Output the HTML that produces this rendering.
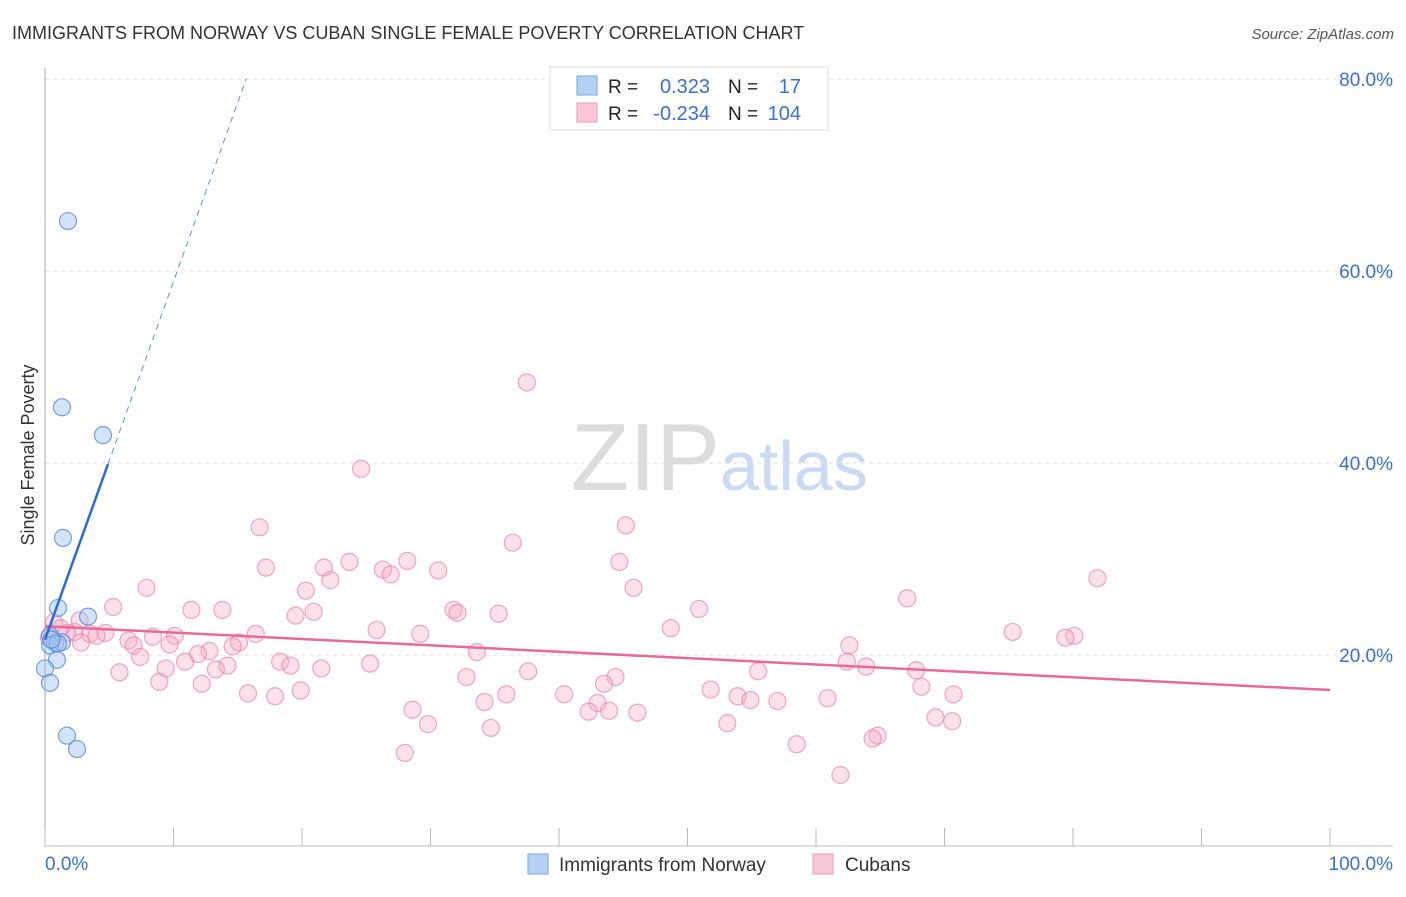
<!DOCTYPE html>
<html><head><meta charset="utf-8"><style>
body{margin:0;background:#fff;font-family:"Liberation Sans",sans-serif;}
svg text{font-family:"Liberation Sans",sans-serif;}
</style></head><body>
<svg id="chart" width="1406" height="892" viewBox="0 0 1406 892">
<text x="12" y="39" font-size="18" fill="#333">IMMIGRANTS FROM NORWAY VS CUBAN SINGLE FEMALE POVERTY CORRELATION CHART</text>
<text x="1394" y="39" font-size="15" fill="#555" text-anchor="end" font-style="italic">Source: ZipAtlas.com</text>
<text x="720" y="490" font-size="96" fill="#dcdcdc" text-anchor="end" font-family="Liberation Serif">ZIP</text>
<text x="720" y="490" font-size="70" fill="#c9daf3">atlas</text>
<text transform="translate(34,455) rotate(-90)" font-size="18" fill="#333" text-anchor="middle">Single Female Poverty</text>
<g id="grid"></g><g id="marks"></g>
<g>
<rect x="550" y="67" width="278" height="63" fill="#fff" stroke="#ddd"/>
<rect x="577" y="76" width="20" height="19" fill="#b5d0f5" stroke="#7aa6e6"/>
<rect x="577" y="103" width="20" height="19" fill="#f9c6d5" stroke="#ee9ab3"/>
<text x="608" y="93" font-size="19" fill="#222">R =</text><text x="710" y="93" font-size="20" fill="#3871d0" text-anchor="end">0.323</text>
<text x="728" y="93" font-size="19" fill="#222">N =</text><text x="801" y="93" font-size="20" fill="#3871d0" text-anchor="end">17</text>
<text x="608" y="120" font-size="19" fill="#222">R =</text><text x="710" y="120" font-size="20" fill="#3871d0" text-anchor="end">-0.234</text>
<text x="728" y="120" font-size="19" fill="#222">N =</text><text x="801" y="120" font-size="20" fill="#3871d0" text-anchor="end">104</text>
</g>
<g>
<rect x="528" y="854" width="20" height="20" fill="#b5d0f5" stroke="#7aa6e6"/>
<text x="559" y="871" font-size="19" fill="#333">Immigrants from Norway</text>
<rect x="813" y="854" width="20" height="20" fill="#f9c6d5" stroke="#ee9ab3"/>
<text x="845" y="871" font-size="19" fill="#333">Cubans</text>
</g>
</svg>
<script>
const yTicks=[20,40,60,80];
const yTickLabels=["20.0%","40.0%","60.0%","80.0%"];
const xTickLabels=["0.0%","100.0%"];
const norwayX=[1.79,1.32,4.51,1.40,1.01,3.35,0.39,0.78,1.32,0.39,0.93,0,0.39,1.71,2.49,1.0,0.5];
const norwayY=[65.2,45.8,42.9,32.2,24.9,24.0,22.0,21.25,21.35,21.0,19.5,18.6,17.1,11.6,10.2,21.2,21.6];
const cubaX=[37.5,24.6,45.2,16.7,36.4,44.7,23.7,28.2,17.2,21.7,26.3,30.6,26.9,22.2,81.9,7.9,45.8,20.3,67.1,5.3,11.4,13.8,31.8,50.9,20.9,19.5,32.1,35.3,0.7,48.7,25.8,75.3,16.4,2.3,4.7,3.5,29.2,80.1,79.4,10.1,8.4,4.0,1.7,6.5,15.1,9.7,6.9,2.8,62.6,14.6,12.8,11.9,33.6,7.4,10.9,62.4,18.3,25.3,19.1,9.4,14.2,21.5,63.9,13.3,37.6,55.5,67.8,5.8,44.4,32.8,43.5,8.9,12.2,68.2,51.8,19.9,15.8,17.9,35.9,40.4,53.9,70.7,54.9,57.0,60.9,34.2,43.0,28.6,42.3,46.1,43.9,69.3,70.6,29.8,53.1,34.7,64.8,64.4,58.5,28.0,61.9,2.7,1.2,0.3];
const cubaY=[48.4,39.4,33.5,33.3,31.7,29.7,29.7,29.8,29.1,29.1,28.9,28.8,28.4,27.8,28.0,27.0,27.0,26.7,25.9,25.0,24.7,24.7,24.7,24.8,24.5,24.1,24.4,24.3,23.4,22.8,22.6,22.4,22.2,22.4,22.3,22.2,22.2,22.0,21.8,22.0,21.9,22.0,22.3,21.5,21.3,21.1,21.0,21.3,21.0,20.9,20.4,20.1,20.3,19.8,19.3,19.3,19.3,19.1,18.9,18.6,18.9,18.6,18.8,18.5,18.3,18.3,18.4,18.2,17.7,17.7,17.0,17.2,17.0,16.7,16.4,16.3,16.0,15.7,15.9,15.9,15.7,15.9,15.3,15.2,15.5,15.1,15.0,14.3,14.1,14.0,14.2,13.5,13.1,12.8,12.9,12.4,11.6,11.3,10.7,9.8,7.5,23.6,22.8,21.8];
const norwayTrend=[21.6,3.73];  // intercept, slope
const cubaTrend=[23.0,-0.0665];
const X=v=>45+v*12.85, Y=v=>847-v*9.6;
const NS="http://www.w3.org/2000/svg";
function mk(tag,attrs,parent){const e=document.createElementNS(NS,tag);for(const k in attrs)e.setAttribute(k,attrs[k]);parent.appendChild(e);return e;}
const grid=document.getElementById('grid'),marks=document.getElementById('marks');
yTicks.forEach((t,i)=>{
 const l=mk('line',{x1:45,x2:1393,y1:Y(t),y2:Y(t),stroke:'#ddd','stroke-dasharray':'4,4'},grid);
 
 
 const tx=mk('text',{x:1393,y:Y(t)+7,'font-size':19,fill:'#3871d0','text-anchor':'end'},grid);
 tx.textContent=yTickLabels[i];
 
 
});
const ax=mk('line',{x1:45,x2:45,y1:68,y2:847,stroke:'#aaa'},grid);


const bx=mk('line',{x1:45,x2:1393,y1:846,y2:846,stroke:'#bbb'},grid);


for(let i=0;i<=10;i++){
 const t=mk('line',{x1:X(i*10),x2:X(i*10),y1:828,y2:846,stroke:'#bbb'},grid);
 
 
}
[[0,'start',45],[100,'end',1393]].forEach((d,i)=>{
 const tx=mk('text',{x:d[2],y:870,'font-size':19,fill:'#3871d0','text-anchor':d[1]},grid);
 tx.textContent=xTickLabels[i];
 
 
});
cubaX.forEach((x,i)=>{
 const c=mk('circle',{cx:X(x),cy:Y(cubaY[i]),r:8.5,fill:'rgba(246,170,195,0.35)',stroke:'rgba(236,130,165,0.7)','stroke-width':1.2},marks);
 
 
});
norwayX.forEach((x,i)=>{
 const c=mk('circle',{cx:X(x),cy:Y(norwayY[i]),r:8.5,fill:'rgba(160,195,240,0.45)',stroke:'rgba(80,130,215,0.75)','stroke-width':1.2},marks);
 
 
});
const ct=mk('line',{x1:X(0),y1:Y(cubaTrend[0]),x2:X(100),y2:Y(cubaTrend[0]+cubaTrend[1]*100),stroke:'#e8699a','stroke-width':2.5},marks);


const nt=mk('line',{x1:X(0),y1:Y(norwayTrend[0]),x2:X(4.9),y2:Y(norwayTrend[0]+norwayTrend[1]*4.9),stroke:'#2b6bd6','stroke-width':2.5},marks);


const xe=(80-norwayTrend[0])/norwayTrend[1];
const nd=mk('line',{x1:X(4.9),y1:Y(norwayTrend[0]+norwayTrend[1]*4.9),x2:X(xe),y2:Y(80),stroke:'#5b8fe0','stroke-width':1,'stroke-dasharray':'6,5'},marks);


</script>
</body></html>
